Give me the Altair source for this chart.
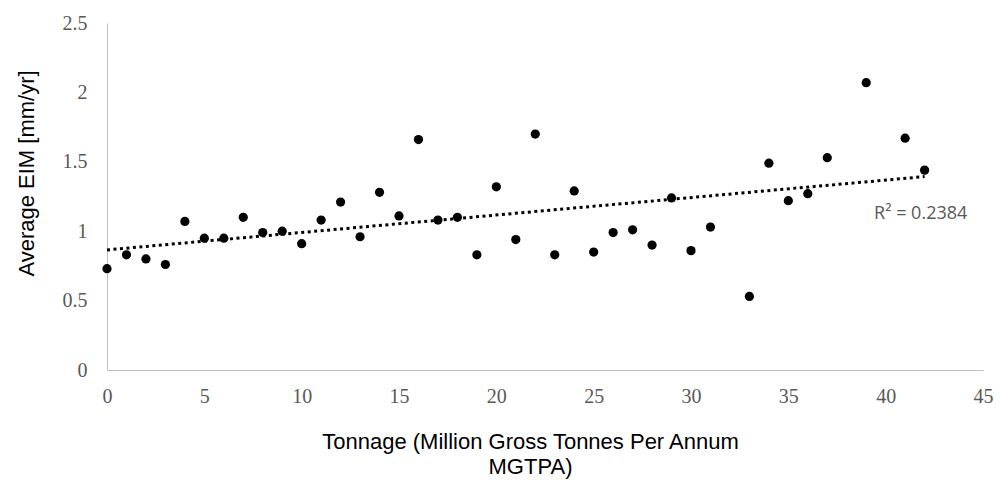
import altair as alt
import pandas as pd

tonnage = [0, 1, 2, 3, 4, 5, 6, 7, 8, 9, 10, 11, 12, 13, 14, 15, 16, 17, 18, 19, 20,
           21, 22, 23, 24, 25, 26, 27, 28, 29, 30, 31, 33, 34, 35, 36, 37, 39, 41, 42]
eim = [0.73, 0.83, 0.80, 0.76, 1.07, 0.95, 0.95, 1.10, 0.99, 1.00, 0.91, 1.08, 1.21, 0.96,
       1.28, 1.11, 1.66, 1.08, 1.10, 0.83, 1.32, 0.94, 1.70, 0.83, 1.29, 0.85, 0.99, 1.01,
       0.90, 1.24, 0.86, 1.03, 0.53, 1.49, 1.22, 1.27, 1.53, 2.07, 1.67, 1.44]

r2_label = ["R² = 0.2384"]
r2_x = [41.8]
r2_y = [1.124]

df = pd.DataFrame({"x": tonnage, "y": eim})
lab = pd.DataFrame({"x": r2_x, "y": r2_y, "t": r2_label})

xscale = alt.Scale(domain=[0, 45], nice=False, zero=False)
yscale = alt.Scale(domain=[0, 2.5], nice=False)

xaxis = alt.Axis(
    values=[0, 5, 10, 15, 20, 25, 30, 35, 40, 45], format="~g",
    title=["Tonnage (Million Gross Tonnes Per Annum", "MGTPA)"],
    grid=False, ticks=False, domainColor="#bfbfbf", domainWidth=1,
    labelFont="Liberation Serif", labelFontSize=20, labelColor="#595959", labelPadding=16,
    labelFlush=False, labelOverlap=False,
    titleFont="Liberation Sans", titleFontSize=22, titleFontWeight="normal", titleColor="#000000",
    titleX=423, titleY=61, titleAlign="center", titleBaseline="top", titleLineHeight=25,
)
yaxis = alt.Axis(
    values=[0, 0.5, 1, 1.5, 2, 2.5], format="~g",
    title="Average EIM [mm/yr]",
    grid=False, ticks=False, domainColor="#bfbfbf", domainWidth=1,
    labelFont="Liberation Serif", labelFontSize=20, labelColor="#595959", labelPadding=20,
    labelFlush=False, labelOverlap=False,
    titleFont="Liberation Sans", titleFontSize=22, titleFontWeight="normal", titleColor="#000000",
    titleX=-81, titleY=150, titleAlign="center", titleBaseline="middle", titleAngle=-90,
)

base = alt.Chart(df)

points = base.mark_circle(size=85, color="#000000", opacity=1).encode(
    x=alt.X("x:Q", scale=xscale, axis=xaxis),
    y=alt.Y("y:Q", scale=yscale, axis=yaxis),
)

trend = base.transform_regression("x", "y", extent=[0, 42]).mark_line(
    color="#000000", strokeWidth=3, strokeDash=[3, 3.5]
).encode(
    x=alt.X("x:Q", scale=xscale),
    y=alt.Y("y:Q", scale=yscale),
)

text = alt.Chart(lab).mark_text(
    font="Open Sans", fontSize=18, color="#595959", align="center", baseline="middle"
).encode(
    x=alt.X("x:Q", scale=xscale),
    y=alt.Y("y:Q", scale=yscale),
    text="t:N",
)

chart = alt.layer(trend, points, text).properties(
    width=876, height=347,
    autosize=alt.AutoSizeParams(type="none"),
    padding={"left": 107, "top": 23, "right": 18, "bottom": 115},
    background="#ffffff",
).configure_view(stroke=None)

chart.save("out.html", embed_options={"renderer": "svg", "actions": False})
